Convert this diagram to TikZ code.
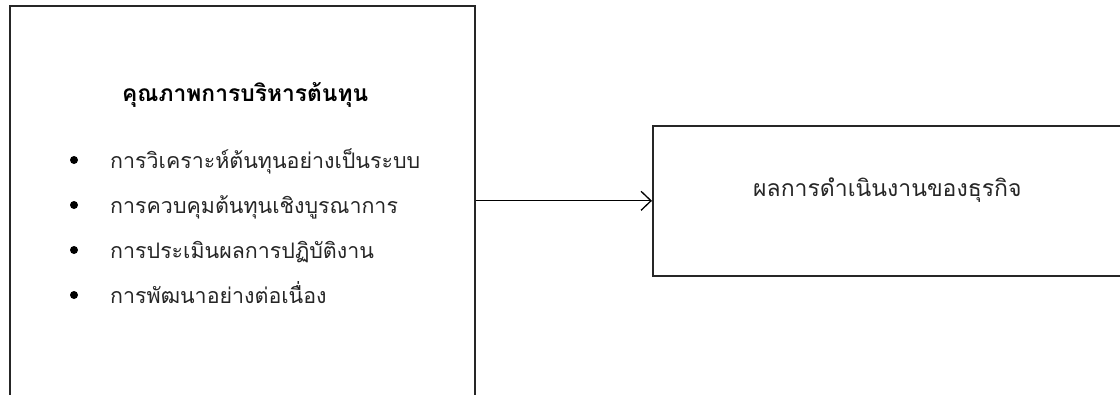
\documentclass[tikz,border=0pt]{standalone}
\usepackage{fontspec}
\newfontfamily\thaifont[Script=Thai]{Loma}
\usetikzlibrary{arrows.meta}
\begin{document}
\begin{tikzpicture}[x=1pt,y=-1pt,
  box/.style={draw=black!85,line width=1.6pt,inner sep=0pt,anchor=north west},
  txt/.style={font=\thaifont\fontsize{21.4}{26}\selectfont,text=black!85,inner sep=0pt,anchor=base west},
  rtxt/.style={font=\thaifont\fontsize{23}{26}\selectfont,text=black!85,inner sep=0pt,anchor=base west},
  ttl/.style={font=\thaifont\bfseries\fontsize{22.8}{26}\selectfont,text=black,inner sep=0pt,anchor=base west},
  dot/.style={circle,fill=black,inner sep=0pt,minimum size=8pt},
  conn/.style={draw=black,line width=1.3pt,-{Straight Barb[length=10pt,width=19pt,line width=1.3pt]}}]
\useasboundingbox (0,0) rectangle (1120,394);
\clip (0,0) rectangle (1120,394);
\node[box,minimum width=465pt,minimum height=420pt] (L) at (9,5) {};
\node[box,minimum width=500pt,minimum height=150pt] (R) at (652,125) {};
\node[ttl] (t0) at (122,101) {คุณภาพการบริหารต้นทุน};
\node[dot] (b1) at (74,160) {};
\node[dot] (b2) at (74,205) {};
\node[dot] (b3) at (74,250) {};
\node[dot] (b4) at (74,295) {};
\node[txt] (t1) at (110,168) {การวิเคราะห์ต้นทุนอย่างเป็นระบบ};
\node[txt] (t2) at (110,213) {การควบคุมต้นทุนเชิงบูรณาการ};
\node[txt] (t3) at (110,258) {การประเมินผลการปฏิบัติงาน};
\node[txt] (t4) at (110,303) {การพัฒนาอย่างต่อเนื่อง};
\node[rtxt] (r1) at (753,196) {ผลการดำเนินงานของธุรกิจ};
\draw[conn] (L.east |- R.west) -- (R.west);
\end{tikzpicture}
\end{document}
